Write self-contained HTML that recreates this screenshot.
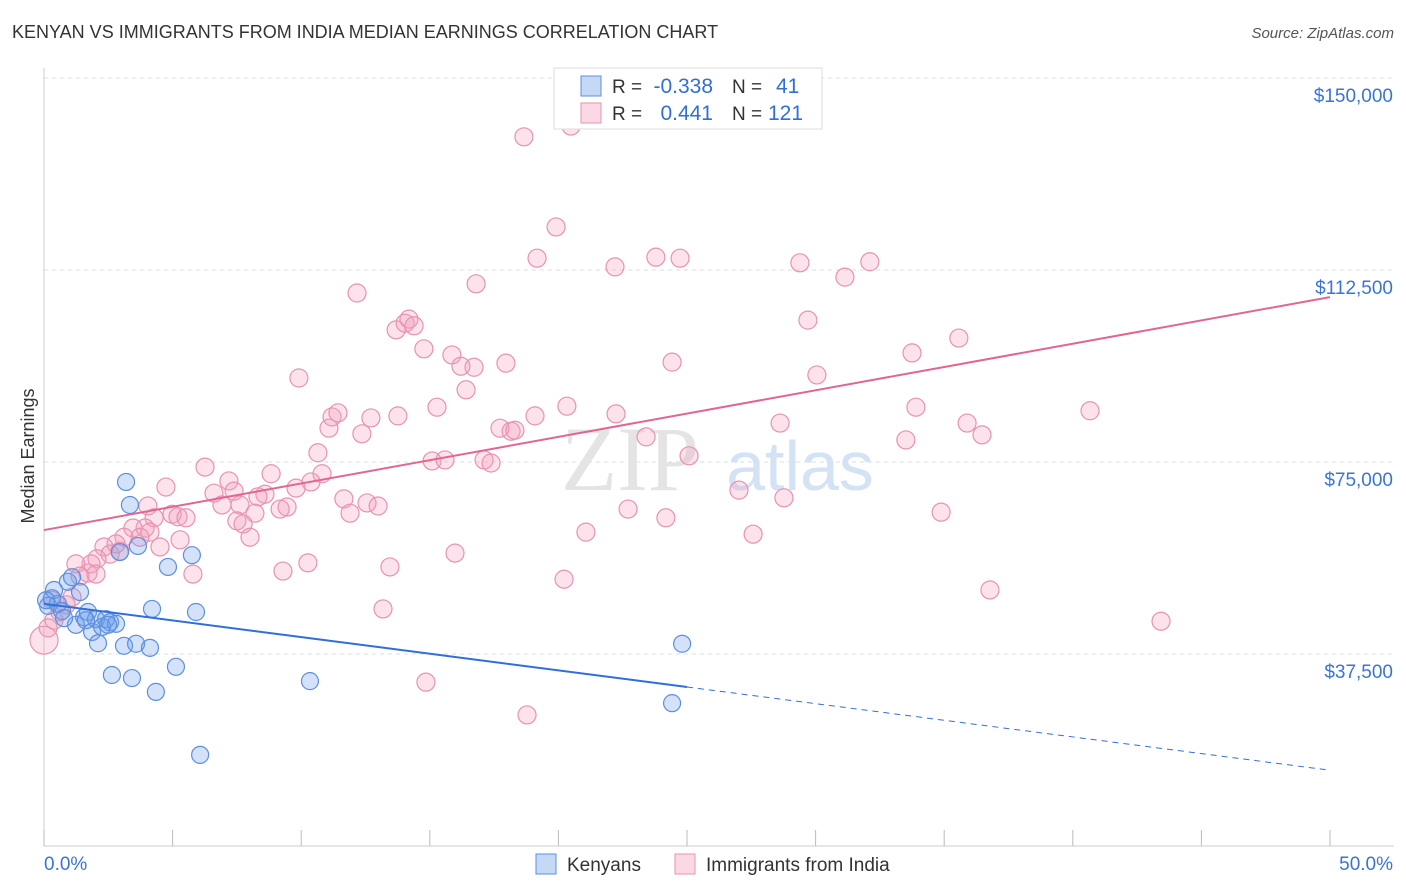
<!DOCTYPE html>
<html><head><meta charset="utf-8"><style>
body{margin:0;background:#fff;font-family:"Liberation Sans",sans-serif;}
#wrap{position:relative;width:1406px;height:892px;overflow:hidden;}
.t{position:absolute;white-space:nowrap;}
</style></head><body>
<div id="wrap">
<div class="t" style="left:12px;top:22px;font-size:18px;color:#333;">KENYAN VS IMMIGRANTS FROM INDIA MEDIAN EARNINGS CORRELATION CHART</div>
<div class="t" style="right:12px;top:25px;font-size:15px;color:#555;font-style:italic;">Source: ZipAtlas.com</div>
<svg id="svg" width="1406" height="892" style="position:absolute;left:0;top:0"></svg>
</div>
<script>
const yTicks=[37500,75000,112500,150000];
const yTickLabels=["$37,500","$75,000","$112,500","$150,000"];
const xTickLabels=["0.0%","50.0%"];
const kenX=[0.16,0.31,0.54,0.70,0.93,1.09,1.24,1.40,1.56,1.71,1.87,2.02,2.10,2.26,2.41,2.57,2.64,2.80,2.95,3.11,3.19,3.34,3.42,3.58,3.65,4.12,4.20,4.35,4.82,5.13,5.75,5.91,6.07,10.34,24.42,24.81,0.39,0.78,0.08,2.49,1.63];
const kenY=[46.9,48.4,47.3,45.9,51.6,52.5,43.2,49.6,44.7,45.7,41.8,44.3,39.6,42.8,44.3,43.7,33.4,43.4,57.4,39.1,71.1,66.6,32.8,39.5,58.6,38.7,46.3,30.1,54.5,35.0,56.8,45.7,17.8,32.2,27.9,39.5,50.0,44.5,48.0,43.2,44.1];
const indX=[18.66,20.49,19.91,19.17,22.20,23.79,24.73,29.39,31.14,32.11,16.80,12.17,13.69,14.04,14.19,14.39,14.77,15.86,16.21,16.72,17.96,16.41,15.28,9.91,11.20,11.43,11.08,12.36,12.71,13.76,17.73,18.16,18.31,19.09,20.33,22.24,23.41,24.42,29.70,30.05,33.75,35.57,40.67,33.90,33.51,35.89,36.47,28.62,25.08,27.02,28.77,27.57,22.71,24.18,21.07,34.88,36.78,43.43,20.22,15.98,13.45,13.18,14.85,18.78,15.09,15.59,17.11,17.38,10.65,10.81,10.38,9.80,8.83,8.59,8.32,9.45,9.18,11.66,11.90,12.56,12.99,6.26,7.19,7.39,6.61,6.92,7.62,8.20,7.50,7.74,8.01,9.29,10.26,5.79,4.74,4.98,5.21,5.52,4.28,4.51,3.93,4.12,3.46,3.73,3.11,2.95,2.33,2.57,2.06,1.83,1.71,1.24,1.40,1.09,0.86,0.62,0.39,0.16,0,0.31,2.02,2.80,4.04,5.29];
const indY=[138.5,140.6,120.9,114.8,113.1,115.0,114.8,113.9,111.1,114.1,109.8,108.0,100.8,102.1,102.9,101.6,97.1,95.9,93.7,93.5,94.3,89.1,85.7,91.4,83.8,84.6,81.6,80.5,83.6,84.0,81.6,81.0,81.2,84.0,85.9,84.4,79.9,94.5,102.7,92.0,96.3,99.2,85.0,85.7,79.3,82.6,80.3,82.6,76.2,69.5,68.0,60.9,65.8,64.1,61.3,65.2,50.0,43.9,52.1,57.2,54.5,46.3,32.0,25.6,75.2,75.4,75.4,74.8,76.8,72.7,71.1,69.9,72.7,68.7,68.2,66.2,65.8,67.8,65.0,67.0,66.4,74.0,71.3,69.3,68.9,66.6,66.6,65.0,63.5,62.9,60.3,53.7,55.3,53.1,70.1,64.8,64.3,64.1,64.1,58.4,62.1,61.3,62.1,60.3,60.3,57.6,58.4,57.0,56.1,55.1,53.3,55.1,52.7,48.6,47.1,45.7,44.1,42.6,40.2,48.0,53.1,59.0,66.4,59.8];
const kenTrend=[47.3,14.8];
const indTrend=[61.7,107.2];
const ns="http://www.w3.org/2000/svg";
const svg=document.getElementById('svg');
const X=p=>44+p*25.72;
const Y=v=>846-v/195.3;
function mk(t,a){const e=document.createElementNS(ns,t);for(const k in a)e.setAttribute(k,a[k]);svg.appendChild(e);return e;}
function txt(s,x,y,sz,col,anchor){const e=mk('text',{x:x,y:y,'font-size':sz,fill:col,'text-anchor':anchor||'start','font-family':'Liberation Sans, sans-serif'});e.textContent=s;return e;}
yTicks.forEach((v,i)=>{const l=mk('line',{x1:44,x2:1394,y1:Y(v),y2:Y(v),stroke:'#ddd','stroke-dasharray':'4,4'});


const t=txt(yTickLabels[i],1393,Y(v)+24,19,'#3b73d9','end');

});
const axy=mk('line',{x1:44,x2:44,y1:68,y2:846,stroke:'#ccc'});


const axx=mk('line',{x1:44,x2:1394,y1:846,y2:846,stroke:'#ccc'});


for(let i=0;i<=10;i++){const l=mk('line',{x1:X(i*5),x2:X(i*5),y1:830,y2:846,stroke:'#bbb'});

}
let t1=txt(xTickLabels[0],44,870,19,'#3b73d9','start');


let t2=txt(xTickLabels[1],1393,870,19,'#3b73d9','end');


let yt=txt('Median Earnings',0,0,18,'#333','middle');yt.setAttribute('transform','translate(34,456) rotate(-90)');


let w=txt('ZIP',630,490,92,'#e4e4e4','middle');w.setAttribute('font-family','Liberation Serif, serif');


let w2=txt('atlas',800,490,70,'#d3e2f5','middle');


indX.forEach((x,i)=>{const c=mk('circle',{cx:X(x),cy:Y(indY[i]*1000),r:(x===0?14:9),fill:'rgba(242,160,190,0.3)',stroke:'#e892b2','stroke-width':1.2});

});
kenX.forEach((x,i)=>{const c=mk('circle',{cx:X(x),cy:Y(kenY[i]*1000),r:8.5,fill:'rgba(110,160,235,0.3)',stroke:'#5b8fe0','stroke-width':1.2});

});
const ky=p=>kenTrend[0]+(kenTrend[1]-kenTrend[0])*p/50;
const iy=p=>indTrend[0]+(indTrend[1]-indTrend[0])*p/50;
let l1=mk('line',{x1:X(0),y1:Y(ky(0)*1000),x2:X(25),y2:Y(ky(25)*1000),stroke:'#2f6fd8','stroke-width':2});


let l2=mk('line',{x1:X(25),y1:Y(ky(25)*1000),x2:X(50),y2:Y(ky(50)*1000),stroke:'#2f6fd8','stroke-width':1,'stroke-dasharray':'6,5'});


let l3=mk('line',{x1:X(0),y1:Y(iy(0)*1000),x2:X(50),y2:Y(iy(50)*1000),stroke:'#e06693','stroke-width':2});


let lb=mk('rect',{x:554,y:68,width:268,height:61,fill:'#fff',stroke:'#ddd'});


let s1=mk('rect',{x:581,y:76,width:20,height:20,fill:'rgba(110,160,235,0.4)',stroke:'#5b8fe0'});


let s2=mk('rect',{x:581,y:103,width:20,height:20,fill:'rgba(242,160,190,0.4)',stroke:'#e892b2'});


[[93,'-0.338','41',776],[120,'0.441','121',768]].forEach(r=>{
let a=txt('R = ',612,r[0],19,'#333');
let b=txt(r[1],713,r[0],21,'#2f6fd8','end');
let c=txt('N = ',732,r[0],19,'#333');
let d=txt(r[2],r[3],r[0],21,'#2f6fd8','start');});
let b1=mk('rect',{x:536,y:854,width:20,height:20,fill:'rgba(110,160,235,0.4)',stroke:'#5b8fe0'});


let bt1=txt('Kenyans',567,871,19,'#333');


let b2=mk('rect',{x:675,y:854,width:20,height:20,fill:'rgba(242,160,190,0.4)',stroke:'#e892b2'});


let bt2=txt('Immigrants from India',706,871,19,'#333');


</script>
</body></html>
